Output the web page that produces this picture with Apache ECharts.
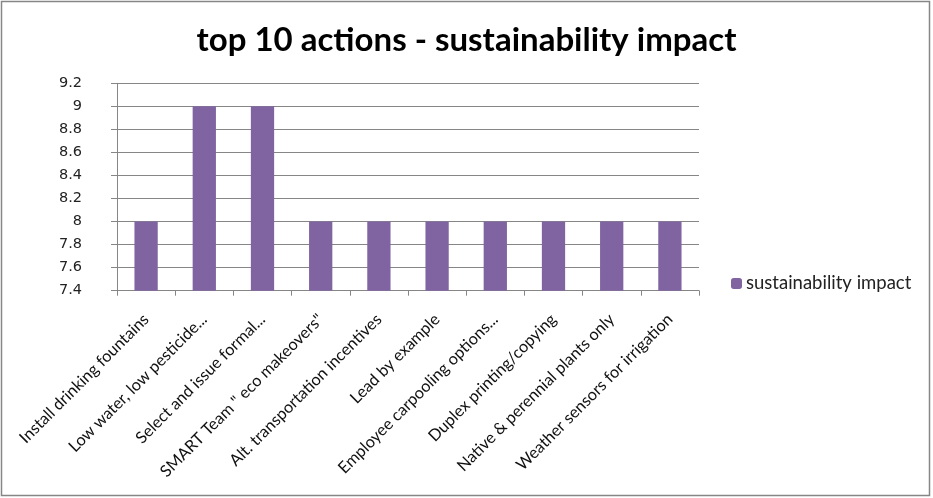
<!DOCTYPE html>
<html><head><meta charset="utf-8">
<script src="https://cdn.jsdelivr.net/npm/echarts@6/dist/echarts.min.js"></script>
<style>html,body{margin:0;padding:0;background:#fff}#c{width:933px;height:498px}</style>
</head><body><div id="c"></div>
<script>
const categories = ["Install drinking fountains","Low water, low pesticide...","Select and issue formal...","SMART Team \" eco makeovers\"","Alt. transportation incentives","Lead by example","Employee carpooling options...","Duplex printing/copying","Native & perennial plants only","Weather sensors for irrigation"];
const values = [8, 9, 9, 8, 8, 8, 8, 8, 8, 8];
const seriesName = "sustainability impact";
const titleText = "top 10 actions - sustainability impact";

const chart = echarts.init(document.getElementById('c'));
const font = "Lato, sans-serif";
chart.setOption({
  animation: false,
  title: {text: titleText, left: 'center', top: 19,
    textStyle: {fontFamily: font, fontSize: 33, fontWeight: 'bold', color: '#000'}},
  legend: {data: [seriesName], left: 726, top: 269, orient: 'vertical',
    itemWidth: 11, itemHeight: 11, itemGap: 4,
    textStyle: {fontFamily: font, fontSize: 18.5, color: '#222', padding: [0,0,0,-1]}},
  grid: {left: 117, top: 83.3, width: 582, height: 207.4, containLabel: false},
  xAxis: {type: 'category', data: categories,
    axisLine: {lineStyle: {color: '#868686'}},
    axisTick: {show: true, length: 5, lineStyle: {color: '#868686'}},
    axisLabel: {rotate: 45, interval: 0, margin: 26, fontFamily: font, fontSize: 16.3, color: '#111'}},
  yAxis: {type: 'value', min: 7.4, max: 9.2, interval: 0.2,
    axisLine: {show: true, lineStyle: {color: '#868686'}},
    axisTick: {show: true, length: 6, lineStyle: {color: '#868686'}},
    splitLine: {lineStyle: {color: '#868686'}},
    axisLabel: {fontFamily: "'DejaVu Sans', sans-serif", fontSize: 14.5, color: '#222', margin: 35,
      formatter: v => String(Math.round(v*10)/10)}},
  series: [{name: seriesName, type: 'bar', data: values, barWidth: '40%',
    itemStyle: {color: '#8064A2'}}],
  graphic: [{type: 'rect', shape: {x: 1.5, y: 1.5, width: 928, height: 494},
    style: {fill: 'none', stroke: '#868686', lineWidth: 1.5}, silent: true}]
});
</script></body></html>
